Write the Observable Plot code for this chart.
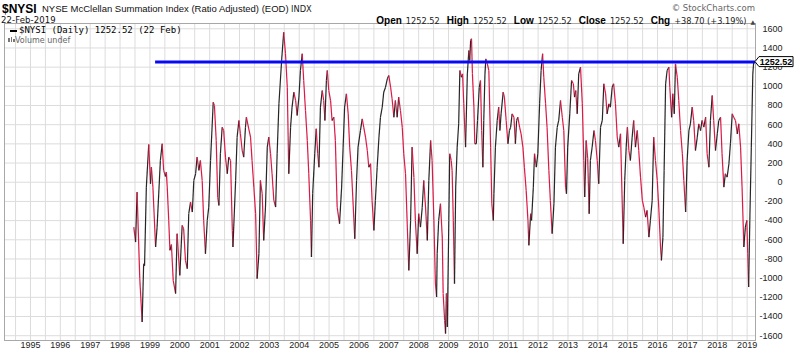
<!DOCTYPE html>
<html><head><meta charset="utf-8">
<script src="https://cdn.jsdelivr.net/npm/d3@7"></script>
<script src="https://cdn.jsdelivr.net/npm/@observablehq/plot@0.6"></script>
<style>
body{margin:0;background:#fff;}
#wrap{position:relative;width:800px;height:354px;overflow:hidden;background:#fff;}
.h{position:absolute;white-space:nowrap;color:#111;line-height:1;}
.b{font-family:'Liberation Sans',Arial,sans-serif;font-weight:bold;font-size:10px;color:#000;margin-left:3px;}
.v{font-family:'DejaVu Sans',sans-serif;font-size:8.2px;color:#222;}
</style></head><body>
<div id="wrap">
<div id="chart"></div>
<div class="h" style="left:2px;top:1.5px;font:bold 12px 'Liberation Sans',Arial,sans-serif;color:#000">$NYSI</div>
<div class="h" style="left:42px;top:3px;font:9.5px 'Liberation Sans',Arial,sans-serif;color:#111">NYSE McClellan Summation Index (Ratio Adjusted) (EOD)</div>
<div class="h" style="left:291px;top:4.3px;font:8.3px 'DejaVu Sans',sans-serif;color:#222">INDX</div>
<div class="h" style="left:1px;top:14.5px;font:8.5px 'DejaVu Sans',sans-serif;color:#111;letter-spacing:0.1px">22-Feb-2019</div>
<div class="h" style="right:45px;top:2.5px;font:8.5px 'DejaVu Sans',sans-serif;color:#666">© StockCharts.com</div>
<div class="h" style="right:45px;top:11.3px"><span class="b">Open</span> <span class="v">1252.52</span> <span class="b">High</span> <span class="v">1252.52</span> <span class="b">Low</span> <span class="v">1252.52</span> <span class="b">Close</span> <span class="v">1252.52</span> <span class="b">Chg</span> <span class="v">+38.70 (+3.19%)</span> <span class="v" style="font-size:6px;color:#444">▲</span></div>
<div class="h" style="left:10px;top:30px;width:7px;height:2px;background:#000"></div>
<div class="h" style="left:19px;top:25.4px;font:9px 'DejaVu Sans Mono',monospace;color:#000">$NYSI (Daily) 1252.52 (22 Feb)</div>
<div class="h" style="left:8px;top:38px;width:1.5px;height:4px;background:#777"></div>
<div class="h" style="left:10.5px;top:37px;width:1.5px;height:5px;background:#777"></div>
<div class="h" style="left:13px;top:39px;width:1.5px;height:3px;background:#777"></div>
<div class="h" style="left:15px;top:35.7px;font:8px 'DejaVu Sans',sans-serif;color:#666">Volume undef</div>
</div>
<script>
// Decimal-year positions and NYSI values
const dates = [
1998.46,1998.52,1998.57,1998.66,1998.74,1998.79,1998.82,1998.88,1998.96,1999.02,1999.05,1999.10,1999.13,1999.19,1999.24,1999.35,1999.41,1999.46,1999.52,1999.55,1999.58,1999.63,1999.67,1999.72,1999.78,1999.86,1999.91,
2000.00,2000.08,2000.13,2000.19,2000.25,2000.30,2000.36,2000.42,2000.47,2000.53,2000.58,2000.64,2000.69,2000.75,2000.80,2000.86,2000.92,2000.97,
2001.03,2001.12,2001.16,2001.22,2001.27,2001.31,2001.36,2001.42,2001.47,2001.53,2001.59,2001.64,2001.70,2001.76,2001.78,2001.87,2001.92,2001.98,
2002.03,2002.09,2002.14,2002.20,2002.23,2002.31,2002.37,2002.42,2002.48,2002.54,2002.59,2002.65,2002.70,2002.76,2002.81,2002.87,2002.93,2002.98,
2003.04,2003.09,2003.15,2003.21,2003.26,2003.32,2003.41,2003.48,2003.54,2003.60,2003.65,2003.71,2003.76,2003.82,2003.88,2003.93,2003.99,
2004.04,2004.10,2004.15,2004.21,2004.27,2004.32,2004.38,2004.41,2004.45,2004.52,2004.57,2004.62,2004.66,2004.71,2004.77,2004.82,2004.86,2004.91,2004.94,2004.99,
2005.05,2005.10,2005.16,2005.21,2005.27,2005.35,2005.42,2005.47,2005.52,2005.58,2005.64,2005.69,2005.75,2005.81,2005.86,2005.92,2005.97,
2006.05,2006.11,2006.16,2006.22,2006.28,2006.33,2006.39,2006.44,2006.50,2006.55,2006.61,2006.67,2006.72,2006.78,2006.83,2006.89,2006.95,
2007.00,2007.06,2007.11,2007.17,2007.22,2007.28,2007.33,2007.39,2007.45,2007.50,2007.56,2007.62,2007.67,2007.73,2007.78,2007.84,2007.89,2007.95,
2008.00,2008.06,2008.12,2008.17,2008.23,2008.29,2008.34,2008.40,2008.45,2008.51,2008.56,2008.60,2008.62,2008.67,2008.73,2008.79,2008.82,2008.87,2008.90,2008.93,2008.96,
2009.01,2009.04,2009.09,2009.12,2009.16,2009.20,2009.24,2009.29,2009.34,2009.38,2009.43,2009.47,2009.51,2009.57,2009.63,2009.68,2009.71,2009.74,2009.77,2009.80,2009.85,2009.88,2009.93,2009.97,
2010.03,2010.07,2010.11,2010.15,2010.18,2010.22,2010.25,2010.30,2010.35,2010.41,2010.45,2010.50,2010.52,2010.57,2010.63,2010.68,2010.72,2010.76,2010.83,2010.87,2010.93,2010.99,
2011.04,2011.08,2011.13,2011.19,2011.24,2011.28,2011.32,2011.38,2011.43,2011.49,2011.54,2011.60,2011.66,2011.69,2011.75,2011.78,2011.84,2011.88,2011.94,2011.99,
2012.05,2012.10,2012.15,2012.19,2012.25,2012.30,2012.36,2012.41,2012.47,2012.53,2012.58,2012.64,2012.69,2012.75,2012.81,2012.86,2012.92,2012.95,2012.99,
2013.06,2013.12,2013.18,2013.22,2013.26,2013.31,2013.36,2013.42,2013.48,2013.53,2013.56,2013.61,2013.66,2013.71,2013.75,2013.81,2013.87,2013.92,2013.98,
2014.03,2014.09,2014.15,2014.20,2014.26,2014.31,2014.37,2014.42,2014.48,2014.53,2014.59,2014.65,2014.70,2014.76,2014.82,2014.85,2014.90,2014.95,2014.99,
2015.04,2015.09,2015.15,2015.20,2015.26,2015.32,2015.37,2015.43,2015.49,2015.54,2015.60,2015.65,2015.71,2015.76,2015.82,2015.87,2015.93,2015.99,
2016.04,2016.10,2016.13,2016.18,2016.22,2016.27,2016.32,2016.38,2016.41,2016.47,2016.51,2016.56,2016.60,2016.66,2016.71,2016.77,2016.83,2016.88,2016.94,2016.99,
2017.05,2017.10,2017.16,2017.21,2017.27,2017.33,2017.38,2017.44,2017.49,2017.55,2017.61,2017.66,2017.72,2017.77,2017.83,2017.88,2017.94,
2018.00,2018.05,2018.11,2018.16,2018.22,2018.27,2018.33,2018.39,2018.44,2018.50,2018.55,2018.61,2018.67,2018.72,2018.78,2018.83,2018.89,2018.94,2018.99,
2019.02,2019.05,2019.09,2019.14,2019.19,2019.22
];
const values = [
-468,-624,-103,-1005,-1457,-849,-870,-51,394,-16,157,-51,-259,-676,-468,227,401,123,60,105,-51,-398,-710,-650,-1023,-1161,-536,
-971,-450,-484,-815,-901,-328,-207,-311,19,88,262,123,227,19,-398,-745,-398,-259,
227,834,800,435,-155,-242,297,574,539,262,88,262,227,-502,-676,19,470,644,
505,331,262,574,678,557,470,227,-51,-328,-1005,-745,19,-120,-606,-259,366,470,
297,88,-190,-259,297,818,1269,1564,1339,991,88,574,783,939,852,696,887,
1165,1339,1060,748,435,88,-398,-780,-120,297,557,297,157,783,956,852,644,1060,1165,956,
852,644,678,435,-259,-432,-51,366,783,922,713,366,123,-259,-589,19,366,
539,661,574,470,331,157,193,-190,-502,-190,157,470,678,783,939,991,1078,
1113,991,870,678,852,678,887,748,574,297,88,-468,-919,-398,366,53,-398,-745,
-328,-468,-259,19,-259,-606,19,435,227,-398,-1050,-1197,-745,-398,-224,-572,-1161,-1440,-1578,-1161,-1509,
-398,297,227,123,-398,-1057,-51,366,609,1165,1095,1130,818,366,1130,1373,1269,1477,1495,1130,783,401,401,644,
991,1060,539,157,644,1130,1286,1234,1165,366,-224,-398,-120,366,644,783,539,713,939,887,644,401,
539,574,713,678,401,644,678,574,505,366,157,-85,-398,-658,-328,-398,-51,297,157,297,
818,1165,1339,1095,818,574,123,-190,-536,-224,366,574,644,852,678,539,-51,-120,366,
713,1060,1026,887,956,713,1130,1199,818,227,-155,435,250,-328,227,366,539,435,227,
-16,574,644,1026,922,713,818,783,991,1026,818,470,366,505,-259,-641,19,366,574,
331,227,470,644,366,539,331,53,-190,-259,-363,-294,-572,-398,-190,470,227,19,
-259,-676,-815,-572,123,1026,1165,1199,991,678,922,713,1234,1095,852,539,297,19,-311,227,
539,609,783,644,331,470,609,539,644,574,678,297,157,644,904,644,331,
505,644,678,297,-51,88,53,193,401,713,678,644,505,609,366,-51,-676,-468,-398,
-745,-1092,-398,366,1130,1252.52
];
const yTicks = [-1600,-1400,-1200,-1000,-800,-600,-400,-200,0,200,400,600,800,1000,1200,1400,1600];
const yearLabels = [1995,1996,1997,1998,1999,2000,2001,2002,2003,2004,2005,2006,2007,2008,2009,2010,2011,2012,2013,2014,2015,2016,2017,2018,2019];
const gridYears = [1994.5,1995,1995.5,1996,1996.5,1997,1997.5,1998,1998.5,1999,1999.5,2000,2000.5,2001,2001.5,2002,2002.5,2003,2003.5,2004,2004.5,2005,2005.5,2006,2006.5,2007,2007.5,2008,2008.5,2009,2009.5,2010,2010.5,2011,2011.5,2012,2012.5,2013,2013.5,2014,2014.5,2015,2015.5,2016,2016.5,2017,2017.5,2018,2018.5,2019];
const lastClose = 1252.52;
const lastLabel = "1252.52";
const levelStart = 1999.19;
const xDomain = [1994.13, 2019.28];
const yDomain = [-1650, 1655];

const points = dates.map((t, i) => ({t, v: values[i]}));
const segs = d3.pairs(points).map(([a, b]) => ({x1: a.t, y1: a.v, x2: b.t, y2: b.v, c: b.v >= a.v ? "#262626" : "#dc1846"}));

const plot = Plot.plot({
  width: 800, height: 354,
  marginLeft: 4, marginRight: 45, marginTop: 23, marginBottom: 14,
  x: {domain: xDomain, axis: null},
  y: {domain: yDomain, axis: null},
  color: {type: "identity"},
  style: {background: "transparent", fontFamily: "'Liberation Sans', Arial, sans-serif", overflow: "visible"},
  marks: [
    Plot.ruleX(gridYears, {x: d => d, stroke: "#dcdcdc", strokeWidth: 1}),
    Plot.ruleY(yTicks, {y: d => d, stroke: "#dcdcdc", strokeWidth: 1}),
    Plot.frame({stroke: "#a8a8a8"}),
    Plot.link(segs, {x1: "x1", y1: "y1", x2: "x2", y2: "y2", stroke: "c", strokeWidth: 1.2}),
    Plot.ruleY([{y: lastClose, x1: levelStart, x2: xDomain[1]}], {y: "y", x1: "x1", x2: "x2", stroke: "#0808f4", strokeWidth: 3}),
    Plot.text(yTicks, {y: d => d, text: d => String(d), frameAnchor: "right", textAnchor: "end", dx: 27, fontSize: 9, fill: "#222"}),
    Plot.text(yearLabels, {x: d => d, text: d => String(d), frameAnchor: "bottom", dy: 7, fontSize: 9, fill: "#222"})
  ]
});
document.getElementById("chart").appendChild(plot);

// last-value tag on the right axis
const yy = plot.scale("y").apply(lastClose);
const xr = 800 - 45;
const g = d3.select(plot).append("g");
g.append("path")
  .attr("d", `M${xr},${yy} L${xr+4},${yy-5} L${xr+38},${yy-5} L${xr+38},${yy+5} L${xr+4},${yy+5} Z`)
  .attr("fill", "#fff").attr("stroke", "#000").attr("stroke-width", 1);
g.append("text").attr("x", xr + 21).attr("y", yy).attr("dy", "0.35em")
  .attr("text-anchor", "middle").attr("font-size", 9).attr("font-weight", "bold")
  .attr("font-family", "'Liberation Sans', Arial, sans-serif").attr("fill", "#000").text(lastLabel);
</script>
</body></html>
